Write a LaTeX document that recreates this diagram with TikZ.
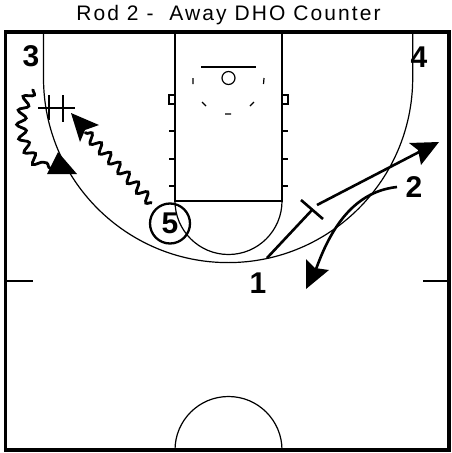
\documentclass[tikz,border=0pt]{standalone}
\usepackage{fontspec}
\setmainfont{Liberation Sans}
\usetikzlibrary{decorations.pathmorphing}
\tikzset{
  court/.style={line width=1.2pt},
  player/.style={font=\fontsize{30}{30}\selectfont\bfseries,inner sep=0pt},
  move/.style={line width=2.6pt},
  wavy/.style={line width=2.8pt,decorate,decoration={snake,segment length=13.5pt,amplitude=4.6pt}},
  headfill/.style={fill=black,draw=none},
}
\begin{document}
\begin{tikzpicture}[x=1pt,y=-1pt]
\useasboundingbox (0,0) rectangle (451,453);
\node[font=\fontsize{21}{21}\selectfont\addfontfeature{LetterSpace=10},inner sep=0pt] (title) at (228.5,15) {Rod 2 -\ \ Away DHO Counter};
\draw[line width=3.6pt] (5.5,32) rectangle (449,450);
% lane
\draw[court] (175,33) -- (175,201) -- (282,201) -- (282,33);
\draw[court] (175,201) arc[start angle=180,end angle=0,radius=53.5];
% three point
\draw[court] (43.5,33) -- (43.5,78) arc[start angle=180,end angle=0,radius=184.6] -- (412.7,33);
% half court
\draw[court] (7,281) -- (33,281) (423,281) -- (448,281);
\draw[court] (175,450) arc[start angle=180,end angle=360,radius=53.5];
% basket
\draw[court] (201,67) -- (256,67);
\draw[court] (228.5,78) circle[radius=6.5];
\draw[court] (193,78) -- (193,84) (264,78) -- (263.5,84) (202,102) -- (206,106) (254,102) -- (250,106) (225,114) -- (231,114);
% lane marks
\draw[court] (169,95) rectangle (175,104) (282,95) rectangle (288,104);
\foreach \yy in {131,159,186}{\draw[court] (169,\yy) -- (175,\yy) (282,\yy) -- (288,\yy);}
% players
\node[player] (p3) at (31,56) {3};
\node[player] (p4) at (419,57) {4};
\node[player] (p2) at (414,187) {2};
\node[player] (p1) at (258,283) {1};
\node[player,circle,draw,line width=2.3pt,minimum size=40pt,fill=none] (p5) at (170,223.5) {5};
% defender mark
\draw[court] (38,108) -- (75,108) (49,95) -- (49,120) (63,95) -- (63,122);
% coordinates
\coordinate (w1s) at (33,89);
\coordinate (w1e) at (54,170);
\coordinate (w2s) at (152,203);
\coordinate (w2e) at (85,132);
\coordinate (s1) at (267,258);
\coordinate (screen) at (312,210);
\coordinate (s2) at (317,205);
\coordinate (s2e) at (421,151);
\coordinate (c2s) at (397,187);
\coordinate (c2e) at (315,272);
\coordinate (t1) at (301,200);
\coordinate (t2) at (323,219);
% dribbles
\draw[wavy] (w1s) .. controls (15,115) and (22,155) .. (w1e);
\draw[wavy] (w2s) -- (w2e);
\fill[headfill] (58,152) -- (77,174) -- (47,174) -- cycle;
\fill[headfill] (71,113) -- (99,125) -- (85,130) -- (80,142) -- cycle;
% cut and screen
\draw[move] (s1) -- (screen);
\draw[move] (t1) -- (t2);
\draw[move] (s2) -- (s2e);
\fill[headfill] (439,142) -- (409,143) -- (418,150) -- (421,165) -- cycle;
% pass
\draw[move] (c2s) .. controls (350,192) and (328,235) .. (c2e);
\fill[headfill] (306,289) -- (306,259) -- (315,268) -- (329,270) -- cycle;
\end{tikzpicture}
\end{document}
